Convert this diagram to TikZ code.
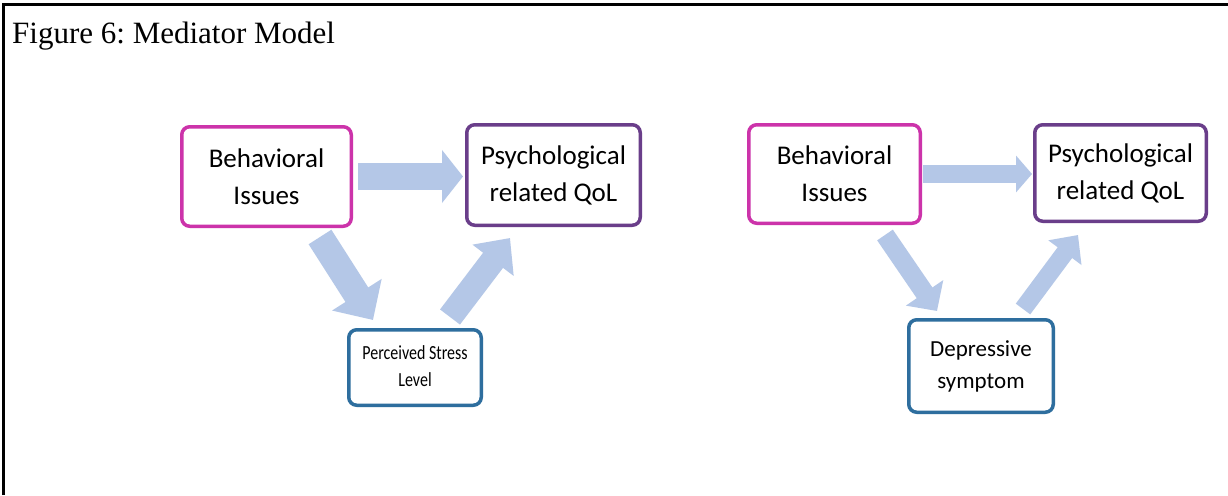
\documentclass[tikz,border=0pt]{standalone}
\usepackage{fontspec}
\usepackage{graphicx}
\setmainfont{Liberation Serif}
\newfontfamily\boxfont{Carlito}
\usetikzlibrary{arrows.meta}
\frenchspacing

\definecolor{bimag}{RGB}{204,51,170}
\definecolor{qolpurple}{RGB}{106,62,138}
\definecolor{medblue}{RGB}{46,110,158}
\definecolor{flowblue}{RGB}{180,199,231}

\tikzset{
  varbox/.style={draw=#1, line width=3.5pt, rounded corners=8pt, fill=white,
    inner sep=0pt, align=center, font=\boxfont\fontsize{27}{37}\selectfont},
  flow/.style={draw=flowblue, line width=#1, line cap=butt},
}

\begin{document}
\begin{tikzpicture}[x=1pt,y=-1pt]
  \useasboundingbox (0,0) rectangle (1228,495);
  \fill[white] (0,0) rectangle (1228,495);

  % frame
  \draw[line width=3pt] (3.3,495) -- (3.3,5) -- (1228,5);

  % caption
  \node[anchor=base west, inner sep=0pt, font=\fontsize{31}{37}\selectfont] (cap) at (12,44) {Figure 6: Mediator Model};

  % ---- first model: perceived stress ----
  \node[varbox=bimag, minimum width=169.5pt, minimum height=99.5pt] (B1) at (266.5,176.5) {Behavioral\\Issues};
  \node[varbox=qolpurple, minimum width=173.5pt, minimum height=100.5pt] (P1) at (553.5,175) {Psychological\\related QoL};
  \node[varbox=medblue, minimum width=132.5pt, minimum height=75.5pt] (S1) at (415,367.5)
    {\scalebox{0.8}[1]{\fontsize{20}{27}\selectfont\begin{tabular}{@{}c@{}}Perceived Stress\\Level\end{tabular}}};

  \draw[flow=27pt, -{Triangle[width=52pt,length=21pt]}]
    ([xshift=5pt]B1.east) -- ([xshift=-2pt]B1.east -| P1.west);
  \draw[flow=27pt, -{Triangle[width=57pt,length=30pt]}]
    ([shift={(-33,9)}]B1.south east) -- ([shift={(26,-8)}]S1.north west);
  \draw[flow=25pt, -{Triangle[width=50pt,length=28pt]}]
    ([shift={(-33,-11)}]S1.north east) -- ([shift={(45,11)}]P1.south west);

  % ---- second model: depressive symptom ----
  \node[varbox=bimag, minimum width=171.5pt, minimum height=98.5pt] (B2) at (834.5,174) {Behavioral\\Issues};
  \node[varbox=qolpurple, minimum width=171.5pt, minimum height=96.5pt] (P2) at (1120.5,173) {Psychological\\related QoL};
  \node[varbox=medblue, minimum width=144.5pt, minimum height=92.5pt,
        font=\boxfont\fontsize{23}{32}\selectfont] (D2) at (981,366) {Depressive\\symptom};

  \draw[flow=18pt, -{Triangle[width=36pt,length=16pt]}]
    ([xshift=1pt]B2.east) -- ([xshift=-1pt]B2.east -| P2.west);
  \draw[flow=19pt, -{Triangle[width=44pt,length=22pt]}]
    ([shift={(-37,10)}]B2.south east) -- ([shift={(30,-7)}]D2.north west);
  \draw[flow=18pt, -{Triangle[width=40pt,length=22pt]}]
    ([shift={(-32,-9)}]D2.north east) -- ([shift={(45,12)}]P2.south west);
\end{tikzpicture}
\end{document}
